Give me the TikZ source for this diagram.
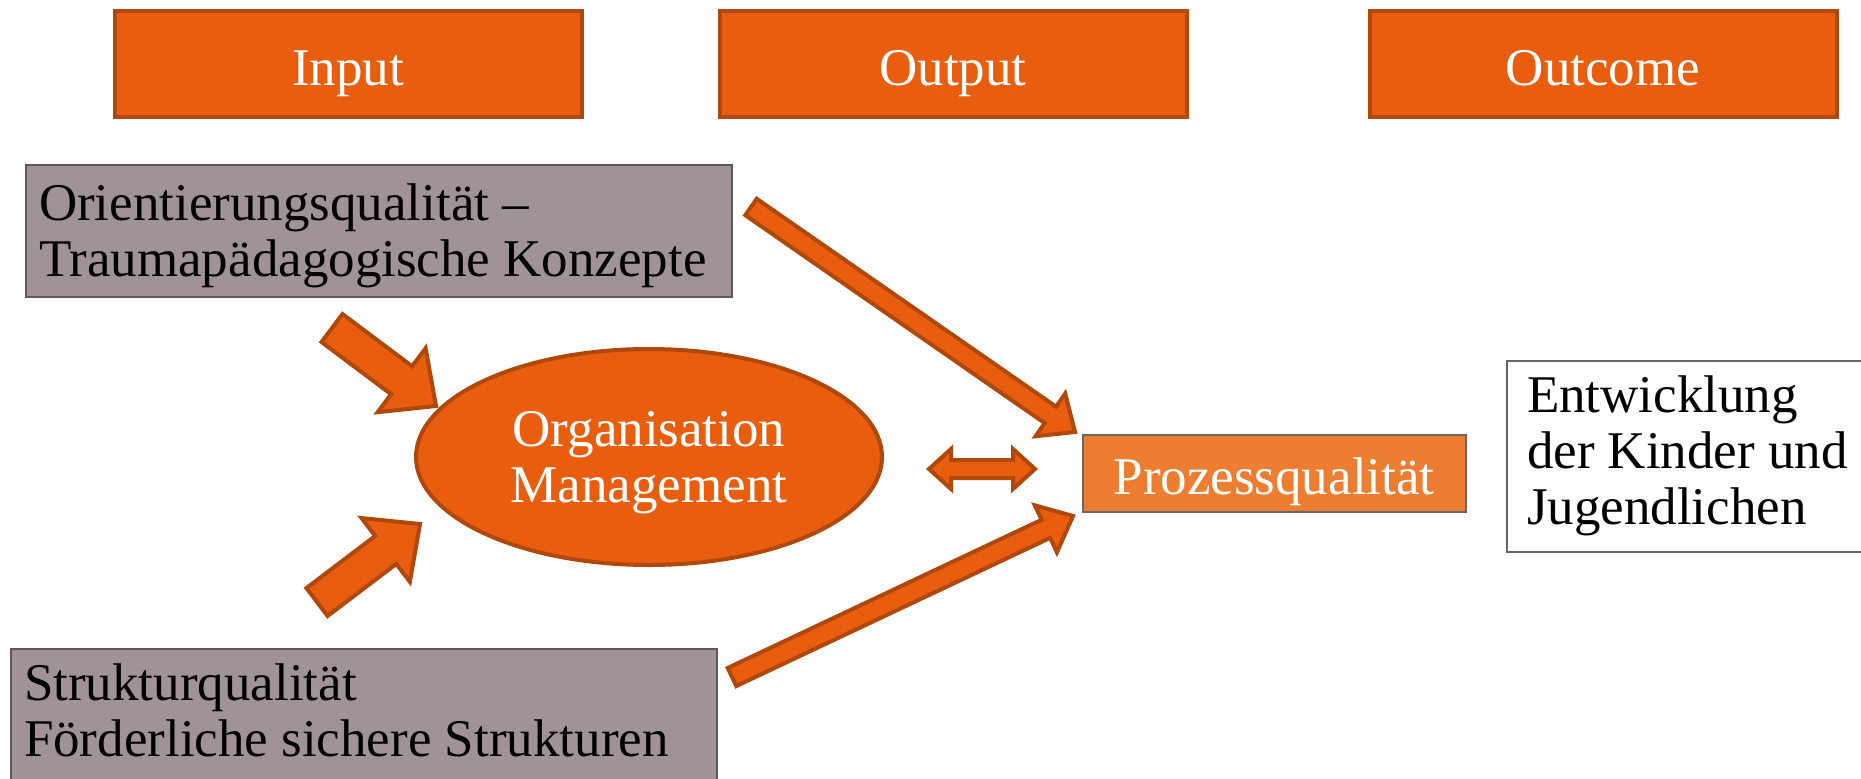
\documentclass[tikz,border=0pt]{standalone}
\usepackage{fontspec}
\setmainfont{Liberation Serif}
\usetikzlibrary{shapes.geometric,calc}

\definecolor{orgorange}{HTML}{E85D0E}
\definecolor{orgdark}{HTML}{AF480A}
\definecolor{lightorange}{HTML}{ED7D31}
\definecolor{mauve}{HTML}{A09398}
\definecolor{mauveline}{HTML}{5F555A}
\definecolor{boxline}{HTML}{6A6468}

\tikzset{
  fatarrow/.style={fill=orgorange,draw=orgdark,line width=4pt,line join=miter},
}

% tail, tip, shaft half width, head half width, head length
\newcommand{\blockarrow}[5]{%
  \coordinate (neck) at ($(#2)!#5!(#1)$);
  \filldraw[fatarrow] ($(#1)!#3!90:(#2)$) -- ($(neck)!#3!90:(#2)$)
    -- ($(neck)!#4!90:(#2)$) -- (#2) -- ($(neck)!#4!-90:(#2)$)
    -- ($(neck)!#3!-90:(#2)$) -- ($(#1)!#3!-90:(#2)$) -- cycle;
}
% same, with a head at both ends
\newcommand{\twowayarrow}[5]{%
  \coordinate (neckA) at ($(#1)!#5!(#2)$);
  \coordinate (neckB) at ($(#2)!#5!(#1)$);
  \filldraw[fatarrow] (#1) -- ($(neckA)!#4!90:(#2)$) -- ($(neckA)!#3!90:(#2)$)
    -- ($(neckB)!#3!90:(#2)$) -- ($(neckB)!#4!90:(#2)$) -- (#2)
    -- ($(neckB)!#4!-90:(#2)$) -- ($(neckB)!#3!-90:(#2)$)
    -- ($(neckA)!#3!-90:(#2)$) -- ($(neckA)!#4!-90:(#2)$) -- cycle;
}

\begin{document}
\begin{tikzpicture}[x=1pt,y=-1pt,font=\fontsize{53}{56}\selectfont]

        \useasboundingbox (0,0) rectangle (1861,779);
        \clip (0,0) rectangle (1861,779);

        \begin{scope}[every node/.style={rectangle,fill=orgorange,draw=orgdark,line width=4pt,
            text=white,minimum width=467pt,minimum height=106pt,text height=42pt,text depth=0pt}]
          \node (input)   at (348,64)  {Input};
          \node (output)  at (953,64)  {Output};
          \node (outcome) at (1603,64) {Outcome};
        \end{scope}

        \begin{scope}[every node/.style={rectangle,fill=mauve,draw=mauveline,line width=2pt,
            text width=680pt,inner xsep=13pt,align=flush left}]
          \node[minimum height=132pt,text depth=58pt] (orient) at (379,231)
            {Orientierungsqualität –\\Traumapädagogische Konzepte};
          \node[anchor=north west,inner ysep=15pt,text depth=70pt] (struktur) at (10,648)
            {Strukturqualität\\Förderliche sichere Strukturen};
        \end{scope}

        \node[ellipse,fill=orgorange,draw=orgdark,line width=4pt,text=white,align=center,
          inner sep=0pt,minimum width=466pt,minimum height=216pt,text depth=0pt] (orga) at (649,457)
          {Organisation\\Management};

        \node[rectangle,fill=lightorange,draw=boxline,line width=2pt,text=white,
          minimum width=383pt,minimum height=77pt,text height=42pt,text depth=0pt] (prozess) at (1274,473)
          {Prozessqualität};

        \node[rectangle,fill=white,draw=boxline,line width=2pt,anchor=west,
          text width=360pt,inner xsep=20pt,align=flush left,minimum height=191pt] (entw) at (1506,456)
          {Entwicklung\\der Kinder und\\Jugendlichen};

        % arrows
        \coordinate (orient-tail)   at (332,328);
        \coordinate (orient-tip)    at (436,406);
        \coordinate (struktur-tail) at (317,602);
        \coordinate (struktur-tip)  at (420,524);
        \coordinate (top-tail)      at (751,207);
        \coordinate (top-tip)       at (1075,432);
        \coordinate (bottom-tail)   at (732,677);
        \coordinate (bottom-tip)    at (1073,516);
        \coordinate (orga-end)      at (929,469);
        \coordinate (prozess-end)   at (1035,469);

        \blockarrow{orient-tail}{orient-tip}{17.5pt}{40pt}{43pt}
        \blockarrow{struktur-tail}{struktur-tip}{17.5pt}{40pt}{43pt}
        \blockarrow{top-tail}{top-tip}{10pt}{26pt}{30pt}
        \blockarrow{bottom-tail}{bottom-tip}{10pt}{26pt}{30pt}
        \twowayarrow{orga-end}{prozess-end}{9pt}{20pt}{22pt}

      \end{tikzpicture}
\end{document}
